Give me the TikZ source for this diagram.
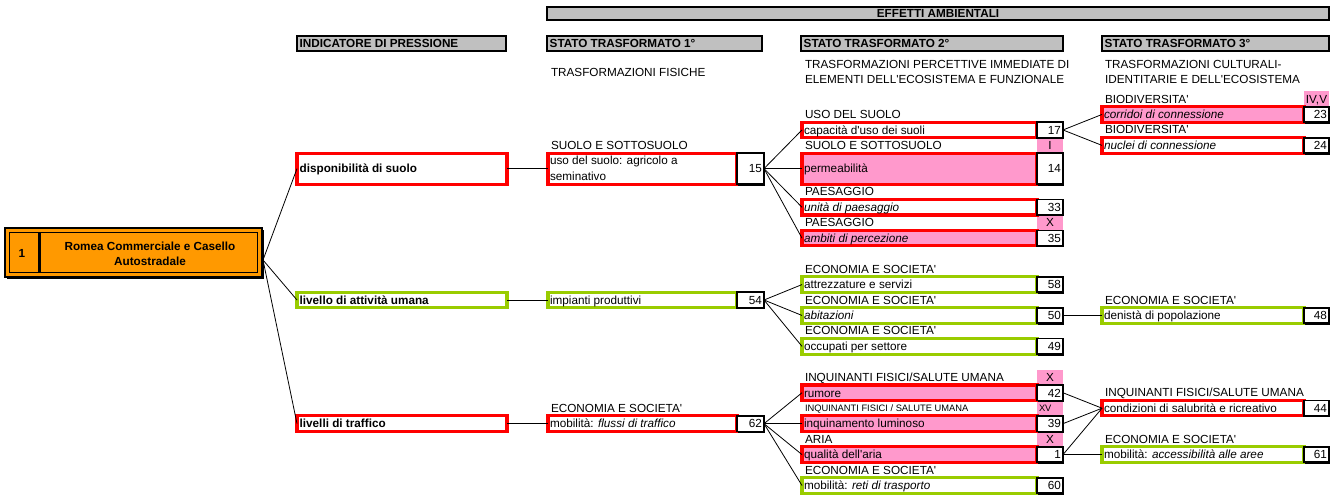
\documentclass[tikz,border=0pt]{standalone}
\usepackage{fontspec}
\setmainfont{Liberation Sans}[Ligatures=TeXOff]
\usetikzlibrary{fit,shadows}
\definecolor{bred}{HTML}{FF0000}
\definecolor{bgreen}{HTML}{99CC00}
\definecolor{bpink}{HTML}{FF99CC}
\definecolor{bgray}{HTML}{C0C0C0}
\definecolor{borange}{HTML}{FF9900}
\newcommand\fsz{\fontsize{8.8pt}{10.6pt}\selectfont}
\newcommand\fsm{\fontsize{7pt}{8.4pt}\selectfont}
% entry: name, box style, x1, y1, x2, y2, number-x2, text, number
\newcommand\ent[9]{%
 \node[#2,fit={(#3,#4)(#5,#6)}] (#1) {};
 \node[numb,fit={(#5,#4)(#7,#6)}] (#1n) {};
 \node[anchor=base west] (#1t) at ([xshift=1.5pt,yshift=-3.2pt]#1.west) {#8};
 \node[anchor=base east] (#1v) at ([xshift=-1.5pt,yshift=-3.2pt]#1n.east) {#9};}
\newcommand\lab[4]{\node[anchor=base west] (#1) at (#2,{#3+4}) {#4};}
\newcommand\pcell[6]{%
 \node[pinkf,fit={(#2,#3)(#4,#5)}] (#1) {};
 \node[anchor=base] (#1t) at ([yshift=-3.2pt]#1.center) {#6};}
\begin{document}
\begin{tikzpicture}[x=0.75pt,y=-0.75pt,
  every node/.style={inner sep=0pt,outer sep=0pt,font=\fsz},
  redb/.style={draw=bred,line width=2.3pt},
  grnb/.style={draw=bgreen,line width=2.3pt},
  pinkf/.style={fill=bpink},
  numb/.style={draw=black,fill=white,line width=1.3pt,general shadow={fill=black,shadow xshift=1.1pt,shadow yshift=-1.1pt}},
  hdr/.style={draw=black,fill=bgray,line width=1.5pt,general shadow={fill=black,shadow xshift=1.1pt,shadow yshift=-1.1pt}},
  hdt/.style={anchor=base west,font=\fsz\bfseries},
  conn/.style={draw=black,line width=0.6pt}]
\useasboundingbox (0,0) rectangle (1337,494);

% headers
\node[hdr,fit={(547,7)(1329,20)}] (eff) {};
\node[font=\fsz\bfseries,anchor=base] (efft) at ([yshift=-3.2pt]eff.center) {EFFETTI AMBIENTALI};
\node[hdr,fit={(297,36)(506,51)}] (h0) {};
\node[hdt] (h0t) at ([xshift=2pt,yshift=-3.2pt]h0.west) {INDICATORE DI PRESSIONE};
\node[hdr,fit={(547,36)(762,51)}] (h1) {};
\node[hdt] (h1t) at ([xshift=2pt,yshift=-3.2pt]h1.west) {STATO TRASFORMATO 1°};
\node[hdr,fit={(801,36)(1063,51)}] (h2) {};
\node[hdt] (h2t) at ([xshift=2pt,yshift=-3.2pt]h2.west) {STATO TRASFORMATO 2°};
\node[hdr,fit={(1102,36)(1329,51)}] (h3) {};
\node[hdt] (h3t) at ([xshift=2pt,yshift=-3.2pt]h3.west) {STATO TRASFORMATO 3°};

\node[anchor=base west] (s1) at (551,76) {TRASFORMAZIONI FISICHE};
\node[anchor=base west] (s2a) at (805,68.5) {TRASFORMAZIONI PERCETTIVE IMMEDIATE DI};
\node[anchor=base west] (s2b) at (805,83.5) {ELEMENTI DELL'ECOSISTEMA E FUNZIONALE};
\node[anchor=base west] (s3a) at (1105,68.5) {TRASFORMAZIONI CULTURALI-};
\node[anchor=base west] (s3b) at (1105,83.5) {IDENTITARIE E DELL'ECOSISTEMA};

% pink cells
\pcell{pIV}{1304}{91.3}{1329}{106.7}{IV,V}
\pcell{pI}{1037}{137.7}{1063}{153.1}{I}
\pcell{pXa}{1037}{215.0}{1063}{230.4}{X}
\pcell{pXb}{1037}{369.6}{1063}{385.0}{X}
\node[pinkf,fit={(1037,400.5)(1063,415.9)}] (pXV) {};
\node[anchor=base west,font=\fsm] (pXVt) at (1039,411.5) {XV};
\pcell{pXc}{1037}{431.4}{1063}{446.9}{X}

% main box
\node[draw=black,fill=borange,line width=1.7pt,general shadow={fill=black,shadow xshift=1.2pt,shadow yshift=-1.2pt},fit={(5,228)(262,277)}] (main) {};
\node[draw=black,line width=0.8pt,fit={(9.5,232.5)(257.5,272.5)}] (maini) {};
\draw[line width=2.4pt] (39.5,232.5) -- (39.5,272.5);
\node[font=\fsz\bfseries] (mnum) at (22,253) {1};
\node[font=\fontsize{8.8pt}{11.5pt}\selectfont\bfseries,align=center] (mtitle) at (150,253.5) {Romea Commerciale e Casello\\Autostradale};
\coordinate (mout) at (263,260);

% indicators
\node[redb,fit={(297,153.1)(507,184.1)}] (disp) {};
\node[hdt] (dispt) at ([xshift=2pt,yshift=-3.2pt]disp.west) {disponibilità di suolo};
\node[grnb,fit={(297,292.3)(507,307.7)}] (liv) {};
\node[hdt] (livt) at ([xshift=2pt,yshift=-3.2pt]liv.west) {livello di attività umana};
\node[redb,fit={(297,415.9)(507,431.4)}] (traf) {};
\node[hdt] (traft) at ([xshift=2pt,yshift=-3.2pt]traf.west) {livelli di traffico};

% level 1
\lab{l1a}{551}{145.4}{SUOLO E SOTTOSUOLO}
\ent{uso}{redb}{548}{153.1}{737}{184.1}{764}{}{15}
\node[anchor=base west] (usoa) at (550,164.8) {uso del suolo: agricolo a};
\node[anchor=base west] (usob) at (550,180.3) {seminativo};
\ent{imp}{grnb}{548}{292.3}{737}{307.7}{764}{impianti produttivi}{54}
\lab{l1b}{551}{408.2}{ECONOMIA E SOCIETA'}
\ent{flus}{redb}{548}{415.9}{737}{431.4}{764}{mobilità: \textit{flussi di traffico}}{62}

% level 2
\lab{l2a}{805}{114.5}{USO DEL SUOLO}
\ent{cap}{redb}{802}{122.2}{1037}{137.7}{1063}{capacità d'uso dei suoli}{17}
\lab{l2b}{805}{145.4}{SUOLO E SOTTOSUOLO}
\ent{perm}{redb,pinkf}{802}{153.1}{1037}{184.1}{1063}{permeabilità}{14}
\lab{l2c}{805}{191.8}{PAESAGGIO}
\ent{unit}{redb}{802}{199.5}{1037}{215.0}{1063}{\textit{unità di paesaggio}}{33}
\lab{l2d}{805}{222.7}{PAESAGGIO}
\ent{amb}{redb,pinkf}{802}{230.4}{1037}{245.9}{1063}{\textit{ambiti di percezione}}{35}
\lab{l2e}{805}{269.1}{ECONOMIA E SOCIETA'}
\ent{attr}{grnb}{802}{276.8}{1037}{292.3}{1063}{attrezzature e servizi}{58}
\lab{l2f}{805}{300.0}{ECONOMIA E SOCIETA'}
\ent{abit}{grnb}{802}{307.7}{1037}{323.2}{1063}{\textit{abitazioni}}{50}
\lab{l2g}{805}{330.9}{ECONOMIA E SOCIETA'}
\ent{occ}{grnb}{802}{338.6}{1037}{354.1}{1063}{occupati per settore}{49}
\lab{l2h}{805}{377.3}{INQUINANTI FISICI/SALUTE UMANA}
\ent{rum}{redb,pinkf}{802}{385.0}{1037}{400.5}{1063}{rumore}{42}
\node[anchor=base west,font=\fsm] (l2i) at (805,411.5) {INQUINANTI FISICI / SALUTE UMANA};
\ent{lum}{redb,pinkf}{802}{415.9}{1037}{431.4}{1063}{inquinamento luminoso}{39}
\lab{l2j}{805}{439.1}{ARIA}
\ent{aria}{redb,pinkf}{802}{446.9}{1037}{462.3}{1063}{qualità dell'aria}{1}
\lab{l2k}{805}{470.0}{ECONOMIA E SOCIETA'}
\ent{reti}{grnb}{802}{477.8}{1037}{493.2}{1063}{mobilità: \textit{reti di trasporto}}{60}

% level 3
\lab{l3a}{1105}{99.0}{BIODIVERSITA'}
\ent{corr}{redb,pinkf}{1102}{106.7}{1304}{122.2}{1329}{\textit{corridoi di connessione}}{23}
\lab{l3b}{1105}{129.9}{BIODIVERSITA'}
\ent{nucl}{redb}{1102}{137.7}{1304}{153.1}{1329}{\textit{nuclei di connessione}}{24}
\lab{l3c}{1105}{300.0}{ECONOMIA E SOCIETA'}
\ent{dens}{grnb}{1102}{307.7}{1304}{323.2}{1329}{denistà di popolazione}{48}
\lab{l3d}{1105}{392.7}{INQUINANTI FISICI/SALUTE UMANA}
\ent{cond}{redb}{1102}{400.5}{1304}{415.9}{1329}{condizioni di salubrità e ricreativo}{44}
\lab{l3e}{1105}{439.1}{ECONOMIA E SOCIETA'}
\ent{acc}{grnb}{1102}{446.9}{1304}{462.3}{1329}{mobilità: \textit{accessibilità alle aree}}{61}

% connectors
\draw[conn] (mout) -- (disp.west);
\draw[conn] (mout) -- (liv.west);
\draw[conn] (mout) -- (traf.west);
\draw[conn] (disp.east) -- (uso.west);
\draw[conn] (liv.east) -- (imp.west);
\draw[conn] (traf.east) -- (flus.west);
\draw[conn] (uson.east) -- (cap.west);
\draw[conn] (uson.east) -- (perm.west);
\draw[conn] (uson.east) -- (unit.west);
\draw[conn] (uson.east) -- (amb.west);
\draw[conn] (capn.east) -- (corr.west);
\draw[conn] (capn.east) -- (nucl.west);
\draw[conn] (impn.east) -- (attr.west);
\draw[conn] (impn.east) -- (abit.west);
\draw[conn] (impn.east) -- (occ.west);
\draw[conn] (abitn.east) -- (dens.west);
\draw[conn] (flusn.east) -- (rum.west);
\draw[conn] (flusn.east) -- (lum.west);
\draw[conn] (flusn.east) -- (aria.west);
\draw[conn] (flusn.east) -- (reti.west);
\draw[conn] (rumn.east) -- (cond.west);
\draw[conn] (lumn.east) -- (cond.west);
\draw[conn] (arian.east) -- (cond.west);
\draw[conn] (arian.east) -- (acc.west);
\end{tikzpicture}
\end{document}
